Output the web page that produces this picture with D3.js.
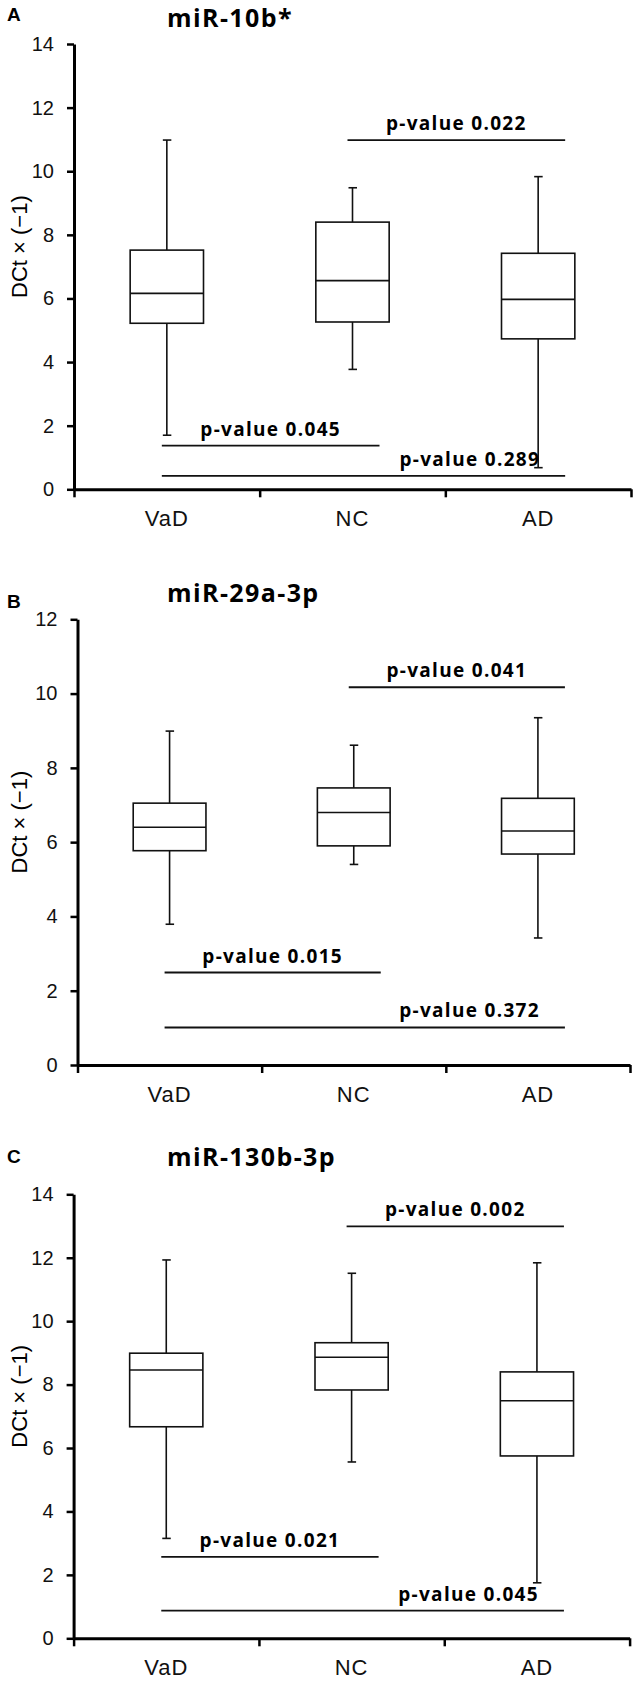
<!DOCTYPE html>
<html>
<head>
<meta charset="utf-8">
<script src="https://cdn.jsdelivr.net/npm/d3@7"></script>
<style>
  body { margin: 0; background: #fff; }
  .tick text { font-family: "Liberation Sans", Arial, sans-serif; fill: #111; }
</style>
</head>
<body>
<div id="chart"></div>
<script>
// categories
var groups = ["VaD", "NC", "AD"];
var panelLetters = ["A", "B", "C"];
var titles = ["miR-10b*", "miR-29a-3p", "miR-130b-3p"];
var yMaxes = [14, 12, 14];

// y tick values
var ticks10b = [0, 2, 4, 6, 8, 10, 12, 14];
var ticks29a = [0, 2, 4, 6, 8, 10, 12];
var ticks130b = [0, 2, 4, 6, 8, 10, 12, 14];

// box stats per group: [low whisker, q1, median, q3, high whisker]
var mir10b = [[1.70, 5.22, 6.16, 7.52, 10.98], [3.77, 5.26, 6.56, 8.40, 9.48], [0.68, 4.73, 5.97, 7.42, 9.83]];
var mir29a = [[3.79, 5.77, 6.40, 7.05, 8.99], [5.40, 5.90, 6.80, 7.46, 8.61], [3.42, 5.68, 6.30, 7.18, 9.35]];
var mir130b = [[3.15, 6.67, 8.46, 8.99, 11.93], [5.56, 7.83, 8.86, 9.32, 11.51], [1.75, 5.75, 7.49, 8.40, 11.84]];

// comparisons: from group, to group, bar level, p-value
var pv10b = [["NC", "AD", 10.98, "0.022"], ["VaD", "NC", 1.37, "0.045"], ["VaD", "AD", 0.42, "0.289"]];
var pv29a = [["NC", "AD", 10.17, "0.041"], ["VaD", "NC", 2.49, "0.015"], ["VaD", "AD", 1.01, "0.372"]];
var pv130b = [["NC", "AD", 12.99, "0.002"], ["VaD", "NC", 2.57, "0.021"], ["VaD", "AD", 0.87, "0.045"]];

var statsList = [mir10b, mir29a, mir130b];
var tickList = [ticks10b, ticks29a, ticks130b];
var pvList = [pv10b, pv29a, pv130b];

// page layout of the three panels
var layout = [
  { top: 44, bottom: 489.3, left: 74, right: 631, letterY: 20.7, titleY: 27 },
  { top: 619.3, bottom: 1065, left: 77.5, right: 630, letterY: 607.7, titleY: 601.7 },
  { top: 1194.3, bottom: 1638.3, left: 73.6, right: 629.6, letterY: 1163.3, titleY: 1166 }
];

var svg = d3.select("#chart").append("svg")
  .attr("width", 641)
  .attr("height", 1683);

panelLetters.forEach(function(letter, i) {
  var L = layout[i];
  var g = svg.append("g");

  var x = d3.scaleBand().domain(groups).range([L.left, L.right]);
  var xEdge = d3.scaleLinear().domain([0, groups.length]).range([L.left, L.right]);
  var y = d3.scaleLinear().domain([0, yMaxes[i]]).range([L.bottom, L.top]);
  var bw = x.bandwidth();
  var boxW = bw * 0.395;

  // panel letter + title
  g.append("text")
    .attr("x", 7).attr("y", L.letterY)
    .style("font-family", "'Liberation Sans', Arial, sans-serif")
    .style("font-weight", "bold").style("font-size", "19px")
    .text(letter);
  g.append("text")
    .attr("x", 167).attr("y", L.titleY)
    .style("font-family", "'Open Sans', sans-serif")
    .style("font-weight", "bold").style("font-size", "25px")
    .style("letter-spacing", "1.4px")
    .text(titles[i]);

  // y axis
  var ya = g.append("g")
    .attr("transform", "translate(" + L.left + ",0)")
    .call(d3.axisLeft(y).tickValues(tickList[i]).tickSize(7).tickPadding(13).tickSizeOuter(0));
  ya.select(".domain").attr("stroke-width", 3);
  ya.selectAll(".tick line").attr("stroke-width", 2.5);
  ya.selectAll(".tick text").style("font-size", "20px");

  // x axis with ticks at group boundaries
  var xa = g.append("g")
    .attr("transform", "translate(0," + L.bottom + ")")
    .call(d3.axisBottom(xEdge).tickValues(d3.range(groups.length + 1)).tickSize(8).tickFormat("").tickSizeOuter(0));
  xa.select(".domain").attr("stroke-width", 3);
  xa.selectAll(".tick line").attr("stroke-width", 2.5);

  // category labels
  var xl = g.append("g")
    .attr("transform", "translate(0," + L.bottom + ")")
    .call(d3.axisBottom(x).tickSize(0).tickPadding(21));
  xl.select(".domain").remove();
  xl.selectAll(".tick text").style("font-size", "22px").style("letter-spacing", "1px");

  // y axis title
  g.append("text")
    .attr("transform", "translate(27," + ((L.top + L.bottom) / 2 - 20) + ") rotate(-90)")
    .attr("text-anchor", "middle")
    .style("font-family", "'Liberation Sans', Arial, sans-serif")
    .style("font-size", "22px")
    .text("DCt \u00d7 (\u22121)");

  // boxes
  var box = g.selectAll(".box")
    .data(statsList[i])
    .enter().append("g")
    .attr("class", "box")
    .attr("transform", function(d, j) { return "translate(" + (x(groups[j]) + bw / 2) + ",0)"; });

  box.append("line")
    .attr("x1", 0).attr("x2", 0)
    .attr("y1", function(d) { return y(d[4]); })
    .attr("y2", function(d) { return y(d[3]); });
  box.append("line")
    .attr("x1", 0).attr("x2", 0)
    .attr("y1", function(d) { return y(d[1]); })
    .attr("y2", function(d) { return y(d[0]); });
  box.append("line")
    .attr("x1", -4).attr("x2", 4.5)
    .attr("y1", function(d) { return y(d[4]); })
    .attr("y2", function(d) { return y(d[4]); });
  box.append("line")
    .attr("x1", -4).attr("x2", 4.5)
    .attr("y1", function(d) { return y(d[0]); })
    .attr("y2", function(d) { return y(d[0]); });
  box.append("rect")
    .attr("x", -boxW / 2).attr("width", boxW)
    .attr("y", function(d) { return y(d[3]); })
    .attr("height", function(d) { return y(d[1]) - y(d[3]); })
    .attr("fill", "#fff");
  box.append("line")
    .attr("x1", -boxW / 2).attr("x2", boxW / 2)
    .attr("y1", function(d) { return y(d[2]); })
    .attr("y2", function(d) { return y(d[2]); });
  box.selectAll("line, rect")
    .attr("stroke", "#111")
    .attr("stroke-width", 1.6);

  // p-value bars
  var pv = g.selectAll(".pv")
    .data(pvList[i])
    .enter().append("g")
    .attr("class", "pv");

  function x1(d) { return x(d[0]) + bw / 2 - 5; }
  function x2(d) { return x(d[1]) + bw / 2 + 27; }
  function wide(d) { return groups.indexOf(d[1]) - groups.indexOf(d[0]) > 1; }

  pv.append("line")
    .attr("x1", x1).attr("x2", x2)
    .attr("y1", function(d) { return y(d[2]); })
    .attr("y2", function(d) { return y(d[2]); })
    .attr("stroke", "#111")
    .attr("stroke-width", 1.8);
  pv.append("text")
    .attr("x", function(d) { return wide(d) ? x2(d) - 25 : (x1(d) + x2(d)) / 2; })
    .attr("y", function(d) { return y(d[2]) - 10; })
    .attr("text-anchor", function(d) { return wide(d) ? "end" : "middle"; })
    .style("font-family", "'Open Sans', sans-serif")
    .style("font-weight", "bold").style("font-size", "19px")
    .style("letter-spacing", "1.3px")
    .text(function(d) { return "p-value " + d[3]; });
});
</script>
</body>
</html>
